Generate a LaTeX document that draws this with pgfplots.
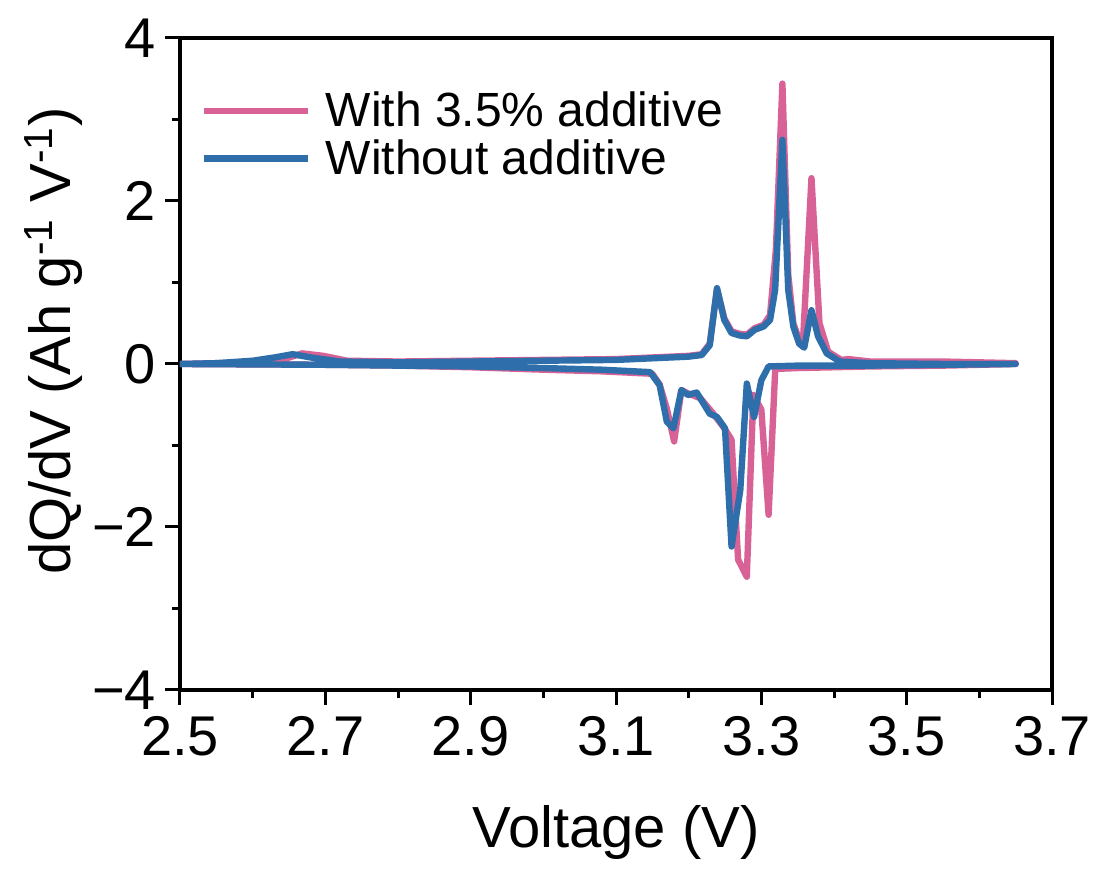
\documentclass[border=0pt]{standalone}
\usepackage{fontspec}
\setmainfont{Liberation Sans}
\usepackage{pgfplots}
\pgfplotsset{compat=1.18}
\definecolor{cpink}{RGB}{216,98,150}
\definecolor{cblue}{RGB}{46,110,170}
\begin{document}
\begin{tikzpicture}
\begin{axis}[
  scale only axis,
  width=436pt, height=326pt,
  xmin=2.5, xmax=3.7, ymin=-4, ymax=4,
  xtick={2.5,2.7,2.9,3.1,3.3,3.5,3.7},
  xticklabels={2.5,2.7,2.9,3.1,3.3,3.5,3.7},
  ytick={-4,-2,0,2,4},
  yticklabels={−4,−2,0,2,4},
  minor x tick num=1, minor y tick num=1,
  tick pos=left, tick align=outside,
  major tick length=7.5pt, minor tick length=4pt,
  every tick/.style={line width=1.5pt, black},
  axis line style={line width=1.75pt},
  tick label style={font=\fontsize{28}{32}\selectfont},
  xticklabel style={yshift=-2pt},
  yticklabel style={xshift=-1pt},
  xlabel={Voltage (V)},
  ylabel={dQ/dV (Ah g\textsuperscript{-1} V\textsuperscript{-1})},
  label style={font=\fontsize{29}{33}\selectfont},
  xlabel style={at={(axis description cs:0.5,-0.242)}, anchor=base},
  ylabel style={at={(axis description cs:-0.145,0.535)}, anchor=center},
  legend style={draw=none, fill=none, at={(rel axis cs:0.023,0.924)}, anchor=north west,
    font=\fontsize{24}{27}\selectfont, inner sep=0pt, row sep=1pt,
    nodes={inner sep=2pt}},
  legend cell align=left,
  legend image code/.code={\draw[#1] (0pt,0pt) -- (52pt,0pt); \path (57.5pt,0pt);},
]
\addplot[cpink, line width=3.2pt, line join=round] coordinates {
(2.50,0.00) (2.60,0.02) (2.64,0.05) (2.668,0.13) (2.697,0.10) (2.73,0.04)
(2.80,0.03) (2.90,0.04) (3.00,0.05) (3.10,0.06) (3.15,0.08) (3.20,0.10)
(3.218,0.12) (3.229,0.25) (3.239,0.92) (3.249,0.56) (3.259,0.40) (3.270,0.37)
(3.280,0.36) (3.291,0.44) (3.303,0.48) (3.312,0.60) (3.320,1.40) (3.329,3.44)
(3.337,1.10) (3.344,0.50) (3.352,0.30) (3.357,0.22) (3.369,2.28) (3.380,0.50)
(3.392,0.15) (3.41,0.05) (3.42,0.06) (3.45,0.03) (3.55,0.03) (3.65,0.01)
(3.65,0.00) (3.55,-0.02) (3.45,-0.03) (3.35,-0.05) (3.32,-0.06) (3.319,-0.09)
(3.31,-1.85) (3.30,-0.56) (3.289,-0.38) (3.28,-2.61) (3.268,-2.40) (3.259,-0.93)
(3.25,-0.80) (3.233,-0.60) (3.216,-0.42) (3.199,-0.36) (3.19,-0.32) (3.18,-0.95)
(3.17,-0.55) (3.16,-0.25) (3.15,-0.12) (3.08,-0.09) (3.00,-0.07) (2.90,-0.04)
(2.80,-0.02) (2.70,-0.01) (2.50,0.00)
};
\addlegendentry{With 3.5\% additive}
\addplot[cblue, line width=3.2pt, line join=round] coordinates {
(2.50,0.00) (2.55,0.01) (2.60,0.04) (2.63,0.08) (2.655,0.12) (2.68,0.08)
(2.72,0.03) (2.80,0.02) (2.90,0.03) (3.00,0.04) (3.10,0.05) (3.15,0.07)
(3.20,0.09) (3.218,0.11) (3.229,0.23) (3.239,0.93) (3.249,0.54) (3.259,0.38)
(3.270,0.35) (3.280,0.34) (3.291,0.42) (3.303,0.46) (3.312,0.54) (3.319,0.91)
(3.329,2.75) (3.337,0.91) (3.344,0.46) (3.352,0.25) (3.359,0.20) (3.369,0.66)
(3.378,0.34) (3.390,0.13) (3.408,0.03) (3.45,0.01) (3.55,0.00) (3.65,0.00)
(3.65,0.00) (3.55,-0.01) (3.45,-0.02) (3.35,-0.02) (3.31,-0.03) (3.30,-0.20)
(3.29,-0.65) (3.280,-0.24) (3.271,-1.55) (3.259,-2.24) (3.250,-0.79) (3.239,-0.65)
(3.229,-0.61) (3.211,-0.35) (3.199,-0.38) (3.190,-0.32) (3.179,-0.79) (3.170,-0.71)
(3.160,-0.26) (3.147,-0.10) (3.08,-0.07) (3.00,-0.05) (2.90,-0.03) (2.80,-0.02)
(2.70,-0.01) (2.50,0.00)
};
\addlegendentry{Without additive}
\coordinate (bl) at (rel axis cs:0,0);
\coordinate (tr) at (rel axis cs:1,1);
\end{axis}
\pgfresetboundingbox
\path ([shift={(-90pt,-90.5pt)}]bl) rectangle ([shift={(22.5pt,19pt)}]tr);
\end{tikzpicture}
\end{document}
